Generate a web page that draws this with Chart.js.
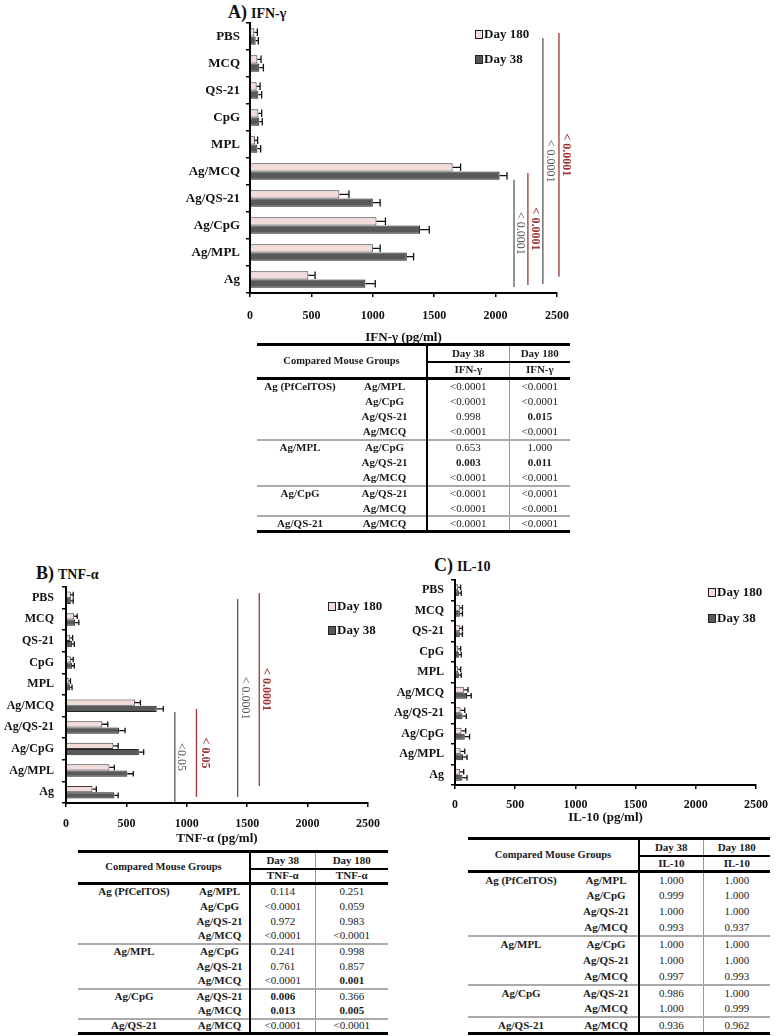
<!DOCTYPE html>
<html>
<head>
<meta charset="utf-8">
<script src="https://cdn.jsdelivr.net/npm/chart.js@4.4.1/dist/chart.umd.min.js"></script>
<style>
  body { margin: 0; background: #fff; width: 777px; height: 1036px; position: relative; overflow: hidden;
         font-family: 'Liberation Serif', 'Times New Roman', serif; color: #111; }
  .wrap { position: absolute; }
  .ttl { position: absolute; font-weight: bold; white-space: nowrap; line-height: 1; }
  .ttl b { font-size: 18px; }
  .ttl span { font-size: 14px; }
  table.pt { position: absolute; border-collapse: collapse; table-layout: fixed; font-size: 11px; color: #1a1a1a;
             border-top: 3px solid #000; border-bottom: 3px solid #000; }
  table.pt td { padding: 0; text-align: center; white-space: nowrap; line-height: 1; overflow: hidden; }
  table.pt .hdr { font-weight: bold; font-size: 10.5px; border-bottom: 3px solid #000; }
  table.pt .dayc { font-weight: bold; border-bottom: 2px solid #000; }
  table.pt tr.sub td { font-weight: bold; border-bottom: 3px solid #000; }
  table.pt .c3 { border-left: 2px solid #000; }
  table.pt .c4 { border-left: 1px solid #999; }
  table.pt .g, table.pt .cmp { font-weight: bold; }
  table.pt .sig { font-weight: bold; }
  table.pt tr.sep td { border-top: 2px solid #aaa; }
</style>
</head>
<body>

<div class="ttl" style="left:228px;top:3px"><b>A)</b> <span>IFN-γ</span></div>
<div class="ttl" style="left:36px;top:564px"><b>B)</b> <span>TNF-α</span></div>
<div class="ttl" style="left:434px;top:556px"><b>C)</b> <span>IL-10</span></div>

<div class="wrap" style="left:170px;top:0px"><canvas id="chartA" width="420" height="345"></canvas></div>
<div class="wrap" style="left:0px;top:560px"><canvas id="chartB" width="390" height="286"></canvas></div>
<div class="wrap" style="left:390px;top:560px"><canvas id="chartC" width="387" height="265"></canvas></div>

<table class="pt" id="tabA" style="left:257px;top:343px"></table>
<table class="pt" id="tabB" style="left:78px;top:850px"></table>
<table class="pt" id="tabC" style="left:468px;top:837px"></table>

<script>
// mouse groups, top to bottom
const groups = ['PBS', 'MCQ', 'QS-21', 'CpG', 'MPL', 'Ag/MCQ', 'Ag/QS-21', 'Ag/CpG', 'Ag/MPL', 'Ag'];

// IFN-γ (pg/ml)
const ifnDay180 = [35, 60, 54, 68, 40, 1650, 728, 1030, 1000, 475];
const ifnDay180Err = [25, 30, 28, 27, 22, 65, 78, 73, 60, 55];
const ifnDay38 = [46, 76, 68, 76, 60, 2033, 1000, 1385, 1277, 940];
const ifnDay38Err = [22, 33, 27, 24, 27, 60, 60, 75, 55, 80];

// TNF-α (pg/ml)
const tnfDay180 = [40, 68, 35, 40, 22, 570, 300, 392, 360, 219];
const tnfDay180Err = [20, 25, 20, 20, 15, 46, 46, 40, 40, 32];
const tnfDay38 = [40, 76, 49, 49, 35, 751, 440, 603, 508, 400];
const tnfDay38Err = [20, 30, 20, 20, 15, 54, 49, 40, 49, 32];

// IL-10 (pg/ml)
const il10Day180 = [27, 40, 40, 27, 27, 73, 46, 54, 46, 40];
const il10Day180Err = [20, 22, 22, 20, 20, 35, 35, 35, 35, 32];
const il10Day38 = [32, 40, 40, 32, 32, 100, 62, 81, 67, 62];
const il10Day38Err = [20, 22, 22, 20, 20, 35, 32, 40, 33, 38];

// significance brackets (x in pg/ml, from/to in category index)
const ifnSigX = [2150, 2263, 2385, 2516];
const ifnSigFrom = [5.31, 5.06, 0.06, -0.13];
const ifnSigTo = [9.28, 9.2, 9.17, 8.9];
const ifnSigLabel = ['< 0.0001', '< 0.0001', '< 0.0001', '< 0.0001'];

const tnfSigX = [901, 1080, 1421, 1600];
const tnfSigFrom = [5.29, 5.15, 0.06, -0.22];
const tnfSigTo = [9.45, 9.22, 9.22, 8.71];
const tnfSigLabel = ['<0.05', '< 0.05', '< 0.0001', '< 0.0001'];

// p-value tables
const baseGroups = ['Ag (PfCelTOS)', 'Ag/MPL', 'Ag/CpG', 'Ag/QS-21'];
const comparedWith = [['Ag/MPL', 'Ag/CpG', 'Ag/QS-21', 'Ag/MCQ'], ['Ag/CpG', 'Ag/QS-21', 'Ag/MCQ'], ['Ag/QS-21', 'Ag/MCQ'], ['Ag/MCQ']];
const ifnP38 = ['<0.0001', '<0.0001', '0.998', '<0.0001', '0.653', '0.003', '<0.0001', '<0.0001', '<0.0001', '<0.0001'];
const ifnP180 = ['<0.0001', '<0.0001', '0.015', '<0.0001', '1.000', '0.011', '<0.0001', '<0.0001', '<0.0001', '<0.0001'];
const tnfP38 = ['0.114', '<0.0001', '0.972', '<0.0001', '0.241', '0.761', '<0.0001', '0.006', '0.013', '<0.0001'];
const tnfP180 = ['0.251', '0.059', '0.983', '<0.0001', '0.998', '0.857', '0.001', '0.366', '0.005', '<0.0001'];
const il10P38 = ['1.000', '0.999', '1.000', '0.993', '1.000', '1.000', '0.997', '0.986', '1.000', '0.936'];
const il10P180 = ['1.000', '1.000', '1.000', '0.937', '1.000', '1.000', '0.993', '1.000', '0.999', '0.962'];

const SERIF = "'Liberation Serif', 'Times New Roman', serif";
const pink = '#f2dcdb';
const dark = '#595959';

// error bars: whisker from bar end out to mean + err
const errPlugin = {
  id: 'errBars',
  afterDatasetsDraw(chart) {
    const { ctx } = chart;
    const xs = chart.scales.x;
    chart.data.datasets.forEach((ds, i) => {
      chart.getDatasetMeta(i).data.forEach((bar, j) => {
        const x0 = xs.getPixelForValue(ds.data[j]);
        const x1 = xs.getPixelForValue(ds.data[j] + ds.errors[j]);
        const h = bar.height * 0.45;
        ctx.save();
        ctx.strokeStyle = '#111';
        ctx.lineWidth = 1.3;
        ctx.beginPath();
        ctx.moveTo(x0, bar.y); ctx.lineTo(x1, bar.y);
        ctx.moveTo(x1, bar.y - h); ctx.lineTo(x1, bar.y + h);
        ctx.stroke();
        ctx.restore();
      });
    });
  }
};

// vertical significance lines with rotated labels
const sigPlugin = {
  id: 'sigLines',
  afterDatasetsDraw(chart, args, opts) {
    const { ctx } = chart;
    const { x, y } = chart.scales;
    (opts.lines || []).forEach(l => {
      const px = x.getPixelForValue(l.x);
      const y0 = y.getPixelForValue(l.from);
      const y1 = y.getPixelForValue(l.to);
      ctx.save();
      ctx.strokeStyle = l.color;
      ctx.lineWidth = 1.3;
      ctx.beginPath(); ctx.moveTo(px, y0); ctx.lineTo(px, y1); ctx.stroke();
      ctx.translate(px + l.dx, (y0 + y1) / 2);
      ctx.rotate(Math.PI / 2);
      ctx.fillStyle = l.color;
      ctx.font = (l.bold ? 'bold ' : '') + '12px ' + SERIF;
      ctx.textAlign = 'center';
      ctx.textBaseline = 'middle';
      ctx.fillText(l.label, 0, 0);
      ctx.restore();
    });
  }
};

// small square legend
const legendPlugin = {
  id: 'boxLegend',
  afterDraw(chart, args, opts) {
    const { ctx } = chart;
    chart.data.datasets.forEach((ds, i) => {
      const bx = opts.x, by = opts.y + i * opts.gap;
      ctx.save();
      ctx.fillStyle = ds.backgroundColor;
      ctx.fillRect(bx, by - 4, 7, 8);
      ctx.strokeStyle = '#222';
      ctx.lineWidth = 1;
      ctx.strokeRect(bx + 0.5, by - 3.5, 7, 8);
      ctx.fillStyle = '#111';
      ctx.font = 'bold 13px ' + SERIF;
      ctx.textBaseline = 'middle';
      ctx.fillText(ds.label, bx + 9, by + 1);
      ctx.restore();
    });
  }
};

function sigLines(xs, from, to, labels, dx) {
  return xs.map((v, i) => ({
    x: v, from: from[i], to: to[i], label: labels[i], dx: dx[i],
    color: i % 2 ? '#a03535' : '#5a5a5a', bold: i % 2 === 1
  }));
}

function makeChart(id, c) {
  return new Chart(document.getElementById(id), {
    type: 'bar',
    data: {
      labels: groups,
      datasets: [
        { label: 'Day 180', data: c.d180, errors: c.e180, backgroundColor: pink, borderColor: '#3a3a3a', borderWidth: 1 },
        { label: 'Day 38', data: c.d38, errors: c.e38, backgroundColor: dark, borderColor: '#222', borderWidth: 1 },
      ],
    },
    options: {
      indexAxis: 'y',
      responsive: false,
      animation: false,
      devicePixelRatio: 1,
      categoryPercentage: c.catPct,
      barPercentage: 1,
      layout: { padding: c.pad },
      plugins: {
        legend: { display: false },
        tooltip: { enabled: false },
        sigLines: { lines: c.sig },
        boxLegend: c.legend,
      },
      scales: {
        x: {
          min: 0, max: 2500,
          ticks: { stepSize: 500, padding: c.xPad, color: '#111', callback: v => String(v),
                   font: { family: SERIF, size: 12, weight: 'bold' } },
          grid: { drawOnChartArea: false, tickLength: 4, color: '#000', lineWidth: 1.5 },
          border: { color: '#000', width: 2 },
          title: { display: true, text: c.xTitle, color: '#111', padding: { top: 0, bottom: 0 },
                   font: { family: SERIF, size: 13, weight: 'bold' } },
          afterFit: s => { s.height = c.xH; },
        },
        y: {
          ticks: { autoSkip: false, padding: c.yPad, color: '#111', font: { family: SERIF, size: c.ySize, weight: 'bold' } },
          grid: { drawOnChartArea: false, tickLength: 4, color: '#000', lineWidth: 1.5 },
          border: { color: '#000', width: 2 },
          afterFit: s => { s.width = c.yW; },
        },
      },
    },
    plugins: [errPlugin, sigPlugin, legendPlugin],
  });
}

makeChart('chartA', {
  d180: ifnDay180, e180: ifnDay180Err, d38: ifnDay38, e38: ifnDay38Err,
  catPct: 0.62, pad: { top: 23, right: 33, left: 0, bottom: 0 },
  xPad: 12, xH: 52, yW: 80, yPad: 6, ySize: 13, xTitle: 'IFN-γ (pg/ml)',
  sig: sigLines(ifnSigX, ifnSigFrom, ifnSigTo, ifnSigLabel, [6, 7, 7, 7]),
  legend: { x: 305, y: 34, gap: 25 },
});

makeChart('chartB', {
  d180: tnfDay180, e180: tnfDay180Err, d38: tnfDay38, e38: tnfDay38Err,
  catPct: 0.58, pad: { top: 27, right: 16, left: 0, bottom: 0 },
  xPad: 10, xH: 43, yW: 66, yPad: 8, ySize: 12, xTitle: 'TNF-α (pg/ml)',
  sig: sigLines(tnfSigX, tnfSigFrom, tnfSigTo, tnfSigLabel, [6, 9, 7, 7]),
  legend: { x: 328, y: 46, gap: 24 },
});

makeChart('chartC', {
  d180: il10Day180, e180: il10Day180Err, d38: il10Day38, e38: il10Day38Err,
  catPct: 0.58, pad: { top: 20, right: 13, left: 0, bottom: 0 },
  xPad: 9, xH: 40, yW: 65, yPad: 7, ySize: 12, xTitle: 'IL-10 (pg/ml)',
  sig: [],
  legend: { x: 318, y: 32, gap: 26 },
});

function pClass(p) {
  return (p[0] !== '<' && parseFloat(p) < 0.05) ? ' sig' : '';
}

function buildTable(id, t) {
  let h = '<colgroup>' + t.cols.map(w => `<col style="width:${w}px">`).join('') + '</colgroup>';
  h += `<tr style="height:${t.hh[0]}px"><td colspan="2" rowspan="2" class="hdr">Compared Mouse Groups</td>` +
       `<td class="c3 dayc">Day 38</td><td class="c4 dayc">Day 180</td></tr>`;
  h += `<tr class="sub" style="height:${t.hh[1]}px"><td class="c3">${t.name}</td><td class="c4">${t.name}</td></tr>`;
  let k = 0;
  baseGroups.forEach((g, gi) => {
    comparedWith[gi].forEach((cmp, ci) => {
      const sep = (ci === 0 && gi > 0) ? ' class="sep"' : '';
      h += `<tr${sep} style="height:${t.rh}px"><td class="g">${ci === 0 ? g : ''}</td><td class="cmp">${cmp}</td>` +
           `<td class="c3${pClass(t.p38[k])}">${t.p38[k]}</td><td class="c4${pClass(t.p180[k])}">${t.p180[k]}</td></tr>`;
      k++;
    });
  });
  const el = document.getElementById(id);
  el.style.width = t.cols.reduce((a, b) => a + b, 0) + 'px';
  el.innerHTML = h;
}

buildTable('tabA', { name: 'IFN-γ', p38: ifnP38, p180: ifnP180, cols: [86, 84, 82, 61], hh: [17, 17], rh: 15.3 });
buildTable('tabB', { name: 'TNF-α', p38: tnfP38, p180: tnfP180, cols: [112, 60, 65, 73], hh: [17, 15], rh: 15 });
buildTable('tabC', { name: 'IL-10', p38: il10P38, p180: il10P180, cols: [106, 65, 64, 67], hh: [17, 16], rh: 16.2 });
</script>
</body>
</html>
